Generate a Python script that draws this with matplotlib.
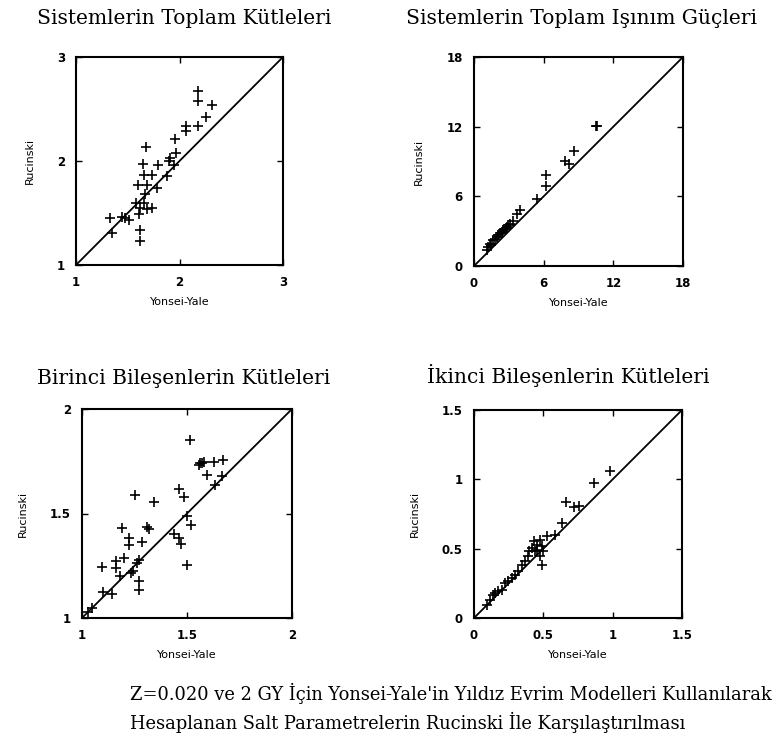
import numpy as np
import matplotlib
matplotlib.use("Agg")
import matplotlib.pyplot as plt

# panel 1: toplam kutleler
m_yy = [2.18, 2.18, 2.31, 2.26, 2.06, 2.06, 2.18, 1.96, 1.68, 1.97, 1.91, 1.90,
        1.95, 1.65, 1.79, 1.66, 1.73, 1.88, 1.60, 1.69, 1.78, 1.67, 1.58, 1.66,
        1.62, 1.69, 1.73, 1.61, 1.33, 1.44, 1.47, 1.51, 1.62, 1.35, 1.62]
m_ru = [2.67, 2.58, 2.54, 2.42, 2.34, 2.29, 2.34, 2.21, 2.13, 2.08, 2.03, 2.00,
        1.96, 1.97, 1.96, 1.87, 1.87, 1.86, 1.77, 1.77, 1.74, 1.68, 1.60, 1.60,
        1.55, 1.54, 1.55, 1.49, 1.45, 1.46, 1.45, 1.43, 1.34, 1.31, 1.23]

# panel 2: toplam isinim gucleri
l_yy = [10.5, 10.6, 8.65, 7.85, 8.2, 6.2, 6.2, 5.4, 4.0, 3.7, 3.4, 3.1, 2.8, 2.5,
        2.2, 1.95, 1.67, 1.38, 1.24, 1.5, 1.8, 2.4, 2.96, 2.7, 2.1, 1.1]
l_ru = [12.1, 12.1, 9.9, 9.04, 8.8, 7.8, 6.9, 5.8, 4.8, 4.5, 3.9, 3.65, 3.35, 3.07,
        2.8, 2.5, 2.2, 1.92, 1.64, 1.78, 2.35, 2.93, 3.5, 3.2, 2.64, 1.35]

# panel 3: birinci bilesen kutleleri
m1_yy = [1.516, 1.563, 1.571, 1.556, 1.579, 1.627, 1.670, 1.595, 1.667, 1.635,
         1.46, 1.484, 1.254, 1.341, 1.50, 1.519, 1.19, 1.31, 1.317, 1.437, 1.46,
         1.471, 1.222, 1.225, 1.286, 1.198, 1.163, 1.16, 1.095, 1.27, 1.262,
         1.243, 1.235, 1.179, 1.27, 1.27, 1.50, 1.10, 1.143, 1.048, 1.03]
m1_ru = [1.853, 1.742, 1.742, 1.734, 1.745, 1.746, 1.754, 1.686, 1.678, 1.638,
         1.617, 1.577, 1.590, 1.553, 1.486, 1.447, 1.43, 1.434, 1.426, 1.40, 1.383,
         1.356, 1.383, 1.348, 1.362, 1.287, 1.271, 1.239, 1.244, 1.279, 1.263,
         1.223, 1.215, 1.199, 1.175, 1.136, 1.252, 1.124, 1.115, 1.048, 1.03]

# panel 4: ikinci bilesen kutleleri
m2_yy = [0.982, 0.862, 0.665, 0.718, 0.754, 0.633, 0.585, 0.525, 0.477, 0.43,
         0.453, 0.489, 0.418, 0.44, 0.39, 0.477, 0.489, 0.368, 0.344, 0.32, 0.296,
         0.272, 0.248, 0.224, 0.2, 0.176, 0.152, 0.135, 0.116, 0.092, 0.453, 0.5,
         0.40]
m2_ru = [1.061, 0.977, 0.833, 0.804, 0.809, 0.684, 0.60, 0.588, 0.564, 0.552,
         0.528, 0.516, 0.504, 0.48, 0.444, 0.444, 0.384, 0.408, 0.384, 0.336,
         0.312, 0.288, 0.264, 0.252, 0.204, 0.192, 0.18, 0.168, 0.132, 0.096,
         0.492, 0.48, 0.48]

titles = ["Sistemlerin Toplam Kütleleri", "Sistemlerin Toplam Işınım Güçleri",
          "Birinci Bileşenlerin Kütleleri", "İkinci Bileşenlerin Kütleleri"]
ticks = [[1, 2, 3], [0, 6, 12, 18], [1, 1.5, 2], [0, 0.5, 1, 1.5]]
ticklabels = [["1", "2", "3"], ["0", "6", "12", "18"], ["1", "1.5", "2"],
              ["0", "0.5", "1", "1.5"]]
xs = [m_yy, l_yy, m1_yy, m2_yy]
ys = [m_ru, l_ru, m1_ru, m2_ru]

W, H = 777, 740
fig = plt.figure(figsize=(W / 100, H / 100), dpi=100)

# axes boxes in pixels: left, top, right, bottom
boxes = [(76, 57, 283, 265), (474, 57, 683, 266), (82, 409, 292, 618), (474, 410, 682, 618)]
title_pos = [(184, 19), (582, 19), (184, 379), (568, 375)]

for i in range(4):
    l, t, r, b = boxes[i]
    ax = fig.add_axes([l / W, 1 - b / H, (r - l) / W, (b - t) / H])
    lo, hi = ticks[i][0], ticks[i][-1]
    ax.plot([lo, hi], [lo, hi], color="black", lw=1.3)
    ax.plot(xs[i], ys[i], "+", color="black", ms=6.5, mew=1.2)
    ax.set_xlim(lo, hi)
    ax.set_ylim(lo, hi)
    ax.set_xticks(ticks[i])
    ax.set_yticks(ticks[i])
    ax.set_xticklabels(ticklabels[i], fontsize=8.5, fontweight="bold")
    ax.set_yticklabels(ticklabels[i], fontsize=8.5, fontweight="bold")
    ax.tick_params(direction="in", top=True, right=True, length=4, width=1, pad=8)
    for s in ax.spines.values():
        s.set_linewidth(1.5)
    ax.set_xlabel("Yonsei-Yale", fontsize=8, labelpad=6)
    ax.set_ylabel("Rucinski", fontsize=8, labelpad=16)
    tx, ty = title_pos[i]
    fig.text(tx / W, 1 - ty / H, titles[i], family="DejaVu Serif", fontsize=14.6,
             ha="center", va="center")

fig.text(130 / W, 1 - 693 / H,
         "Z=0.020 ve 2 GY İçin Yonsei-Yale'in Yıldız Evrim Modelleri Kullanılarak",
         family="DejaVu Serif", fontsize=12.85, ha="left", va="center")
fig.text(130 / W, 1 - 722 / H,
         "Hesaplanan Salt Parametrelerin Rucinski İle Karşılaştırılması",
         family="DejaVu Serif", fontsize=12.85, ha="left", va="center")

fig.savefig("out.png", dpi=100)
